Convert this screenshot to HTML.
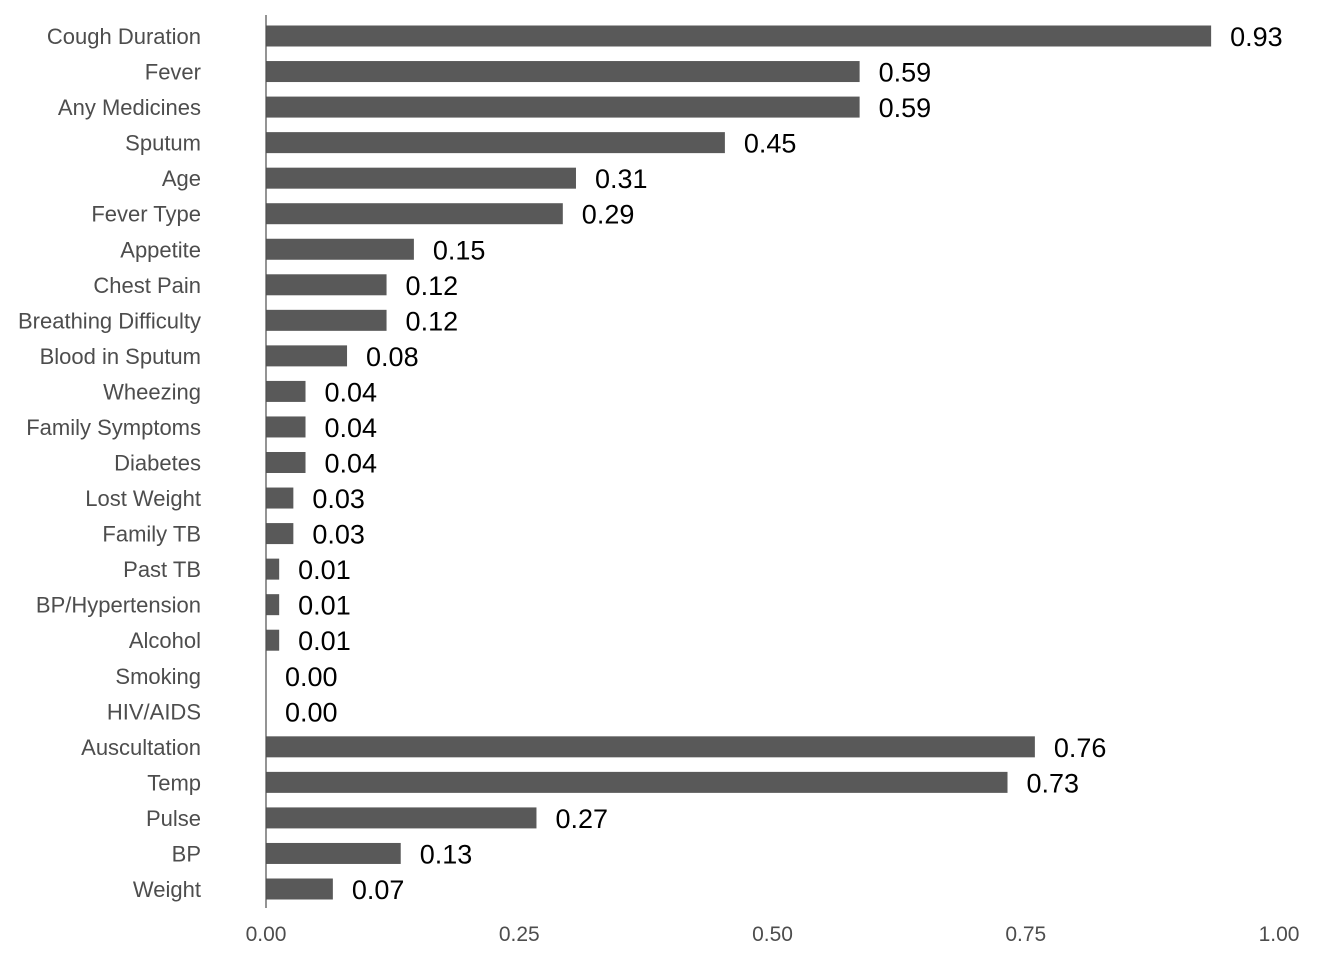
<!DOCTYPE html>
<html><head><meta charset="utf-8"><style>
html,body{margin:0;padding:0;background:#fff;width:1344px;height:960px;overflow:hidden}
svg{display:block}
</style></head><body>
<svg id="chart" width="1344" height="960" xmlns="http://www.w3.org/2000/svg" font-family="Liberation Sans, Arial, sans-serif"></svg>
<script>
const categories=["Cough Duration","Fever","Any Medicines","Sputum","Age","Fever Type","Appetite","Chest Pain","Breathing Difficulty","Blood in Sputum","Wheezing","Family Symptoms","Diabetes","Lost Weight","Family TB","Past TB","BP/Hypertension","Alcohol","Smoking","HIV/AIDS","Auscultation","Temp","Pulse","BP","Weight"];
const values=[0.933,0.586,0.586,0.453,0.306,0.293,0.146,0.119,0.119,0.080,0.039,0.039,0.039,0.027,0.027,0.013,0.013,0.013,0,0,0.759,0.732,0.267,0.133,0.066];
const valueLabels=["0.93","0.59","0.59","0.45","0.31","0.29","0.15","0.12","0.12","0.08","0.04","0.04","0.04","0.03","0.03","0.01","0.01","0.01","0.00","0.00","0.76","0.73","0.27","0.13","0.07"];
const ticks=[0,0.25,0.5,0.75,1];
const tickLabels=["0.00","0.25","0.50","0.75","1.00"];
const svg=document.getElementById('chart');
const NS='http://www.w3.org/2000/svg';
const x0=266,x1=1279;
const xs=v=>x0+v*(x1-x0);
const yTop=36,step=(889-36)/(categories.length-1);
const ys=i=>yTop+i*step;
function mk(t,a){const e=document.createElementNS(NS,t);for(const k in a)e.setAttribute(k,a[k]);svg.appendChild(e);return e;}
categories.forEach((c,i)=>{
  const y=ys(i);
  const lab=mk('text',{x:201,y:y+8,'text-anchor':'end','font-size':22,fill:'#4d4d4d'});
  lab.textContent=c;
  
  
  const b=mk('rect',{x:x0,y:y-10.5,width:Math.max(0,xs(values[i])-x0),height:21,fill:'#595959'});
  
  
  const v=mk('text',{x:xs(values[i])+19,y:y+10,'font-size':27,fill:'#000'});
  v.textContent=valueLabels[i];
  
  
});
const ax=mk('line',{x1:x0,y1:15,x2:x0,y2:908,stroke:'#4d4d4d','stroke-width':1.2});


ticks.forEach((t,i)=>{
  const tl=mk('text',{x:xs(t),y:941,'text-anchor':'middle','font-size':21,fill:'#4d4d4d'});
  tl.textContent=tickLabels[i];
  
  
});
</script>
</body></html>
